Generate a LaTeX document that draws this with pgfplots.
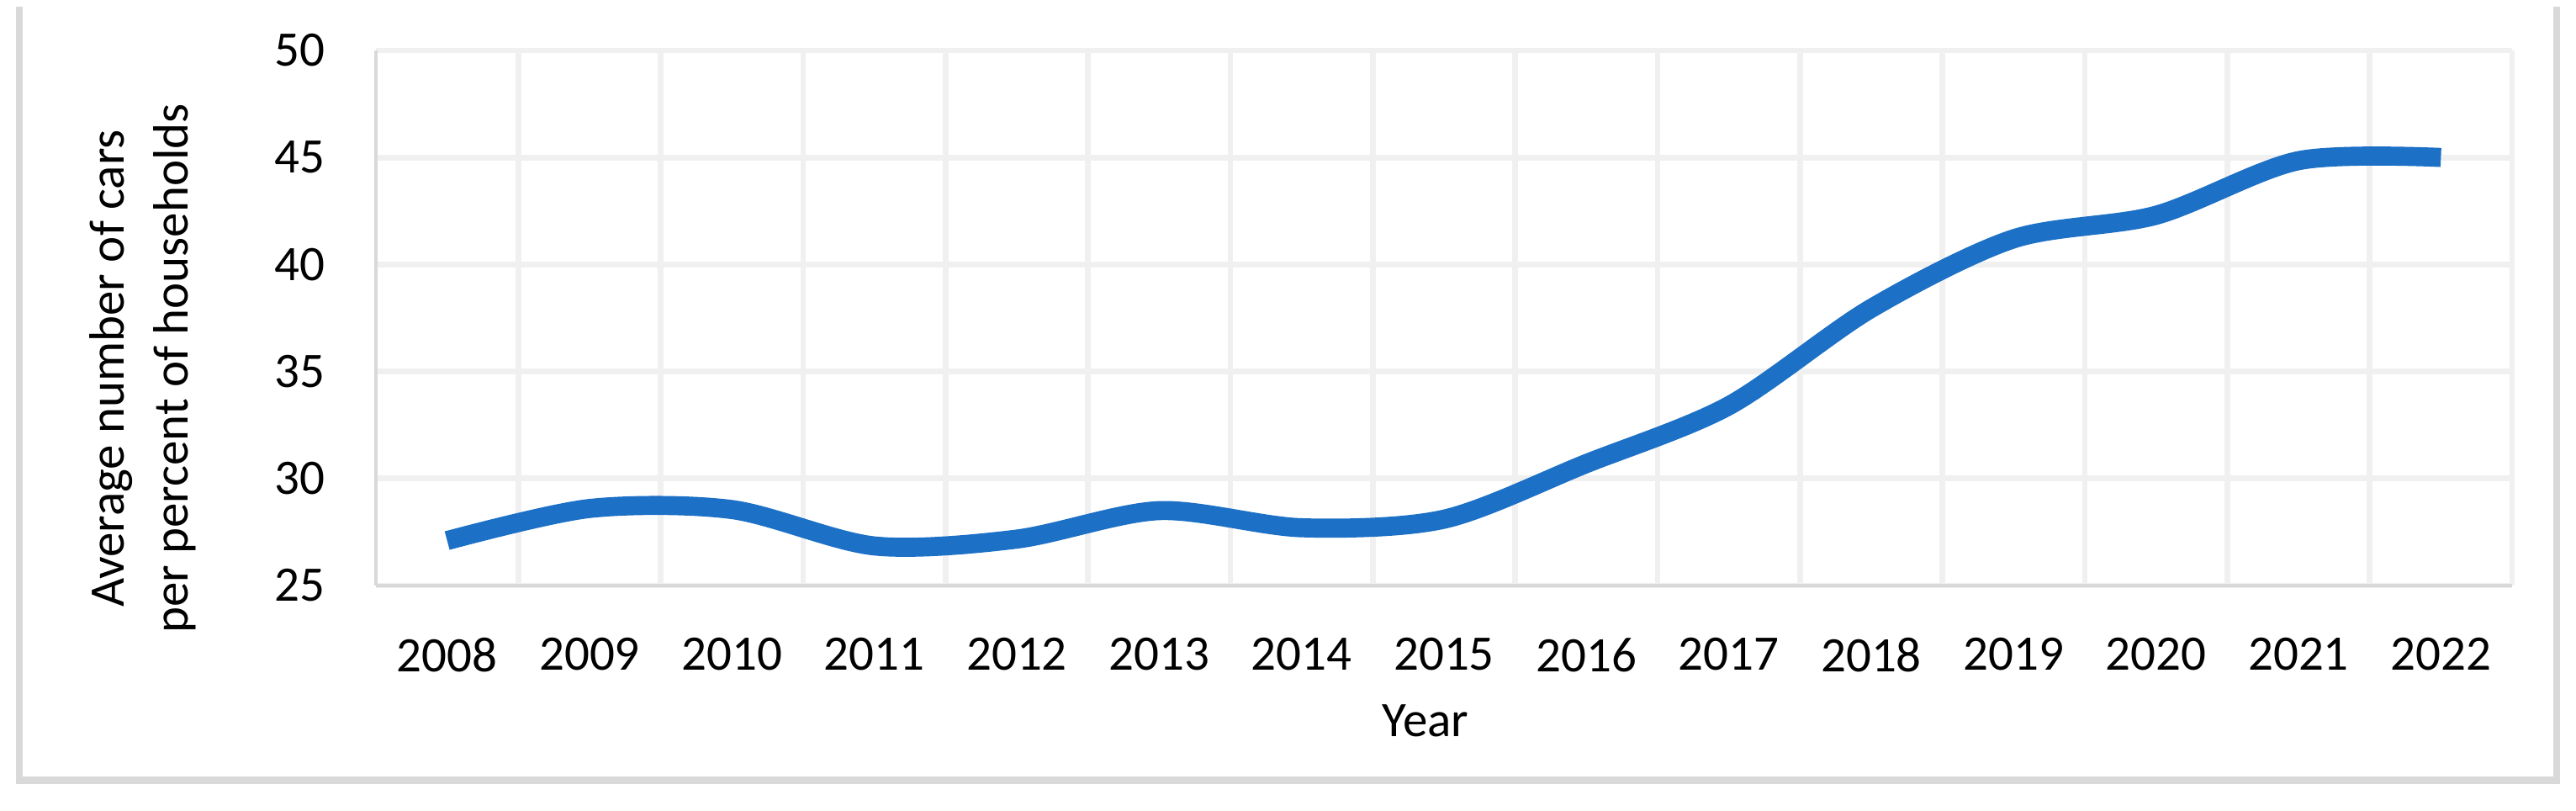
\documentclass[border=0pt]{standalone}
\usepackage{fontspec}
\setmainfont{Carlito}
\usepackage{pgfplots}
\pgfplotsset{compat=1.18}
\definecolor{lineBlue}{RGB}{28,112,198}
\definecolor{gridGray}{RGB}{240,240,240}
\definecolor{axisGray}{RGB}{217,217,217}

\begin{document}
\begin{tikzpicture}[font=\fontsize{8.85}{10.6}\selectfont]
% page = 3063 x 963 px at 0.15pt per px
\path[use as bounding box, fill=white] (0,0) rectangle (459.45pt,144.45pt);
\draw[axisGray, line width=1.3pt] (3.45pt,143.25pt) -- (3.45pt,5.325pt) -- (456pt,5.325pt) -- (456pt,143.25pt);
\begin{axis}[
    at={(67.05pt,40.05pt)}, anchor=south west,
    scale only axis, width=381pt, height=95.4pt,
    xmin=-0.5, xmax=14.5, ymin=25, ymax=50,
    xtick={0,...,14},
    xticklabels={2008,2009,2010,2011,2012,2013,2014,2015,2016,2017,2018,2019,2020,2021,2022},
    minor xtick={0.5,1.5,...,14.5},
    ytick={25,30,35,40,45,50},
    ymajorgrids, xminorgrids,
    grid style={gridGray, line width=1pt},
    minor grid style={gridGray, line width=1pt},
    axis x line=bottom, axis y line=left,
    axis line style={-, axisGray, line width=0.6pt},
    major tick length=0pt, minor tick length=0pt,
    tick style={draw=none},
    tick label style={font=\fontsize{8.85}{10.6}\selectfont},
    xticklabel style={anchor=north, inner sep=0pt, yshift=-9.15pt},
    yticklabel style={anchor=east, inner sep=0pt, xshift=-8.85pt},
    /pgf/number format/assume math mode=true,
]
\addplot[color=lineBlue, line width=3.4pt, smooth, tension=0.5] coordinates {
    (0,27.1) (1,28.6) (2,28.55) (3,26.85) (4,27.17) (5,28.5) (6,27.7)
    (7,28.1) (8,30.7) (9,33.4) (10,37.95) (11,41.2) (12,42.3) (13,44.85) (14,45.0)};
\end{axis}
\node[rotate=90, anchor=base] at (22.05pt,78.75pt) {Average number of cars};
\node[rotate=90, anchor=base] at (33.45pt,78.75pt) {per percent of households};
\node[anchor=base] at (254.25pt,13.2pt) {Year};
\end{tikzpicture}
\end{document}
